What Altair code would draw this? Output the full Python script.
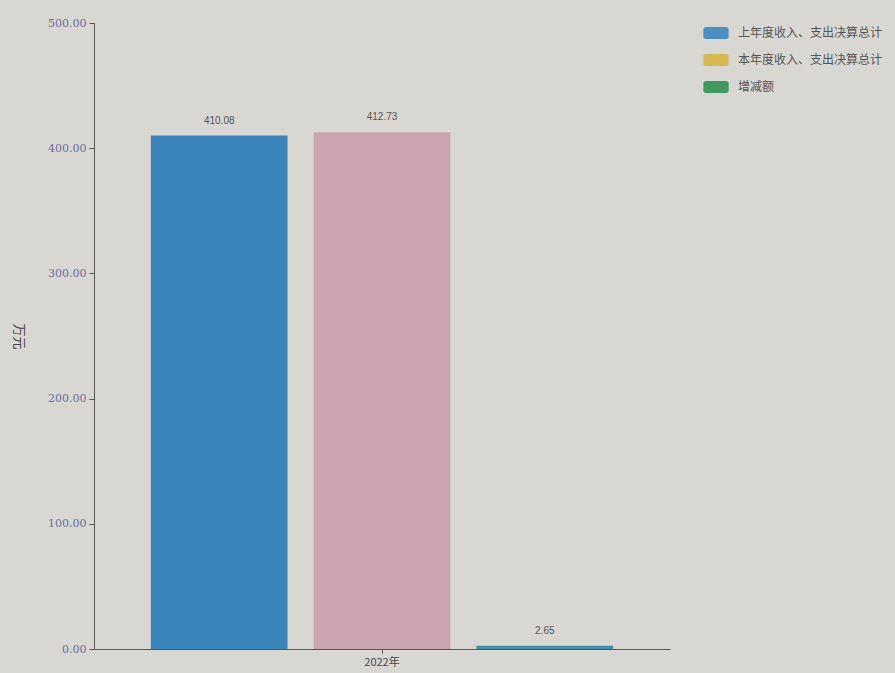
import altair as alt
import pandas as pd

# Series shown in the legend and their totals (万元)
series = ["上年度收入、支出决算总计", "本年度收入、支出决算总计", "增减额"]
values = [410.08, 412.73, 2.65]
year = "2022年"

legend_colors = ["#4a8fc4", "#d6b94f", "#3f9a60"]
bar_colors = ["#3a86bc", "#cba4b0", "#3d8db3"]

df = pd.DataFrame({
    "year": [year] * len(series),
    "series": series,
    "bar_series": series,
    "value": values,
    "label": [f"{v:.2f}" for v in values],
})

rounded_rect = (
    "M-0.78,-0.48 L0.78,-0.48 Q1,-0.48 1,-0.26 L1,0.26 Q1,0.48 0.78,0.48 "
    "L-0.78,0.48 Q-1,0.48 -1,0.26 L-1,-0.26 Q-1,-0.48 -0.78,-0.48 Z"
)

x_enc = alt.X(
    "year:N",
    title=None,
    scale=alt.Scale(paddingInner=0, paddingOuter=0.123),
    axis=alt.Axis(labelAngle=0, labelColor="#444", labelFontSize=11,
                  labelFont="Noto Sans CJK SC", domainColor="#555",
                  tickColor="#555", tickSize=4, labelPadding=3),
)
xoff = alt.XOffset("series:N", sort=series,
                   scale=alt.Scale(paddingInner=0.16, paddingOuter=0))
y_enc = alt.Y(
    "value:Q",
    title="万元",
    scale=alt.Scale(domain=[0, 500], nice=False),
    axis=alt.Axis(values=[0, 100, 200, 300, 400, 500], format=".2f",
                  grid=False, labelColor="#6a6d9c", labelFontSize=11,
                  labelFont="DejaVu Serif", domainColor="#555",
                  tickColor="#555", tickSize=5, labelPadding=3,
                  titleAngle=90, titleFont="Noto Sans CJK SC",
                  titleFontSize=13, titleFontWeight="normal",
                  titleColor="#444", titlePadding=36),
)

bars = alt.Chart(df).mark_bar().encode(
    x=x_enc,
    xOffset=xoff,
    y=y_enc,
    color=alt.Color("bar_series:N", sort=series,
                    scale=alt.Scale(domain=series, range=bar_colors),
                    legend=None),
)

labels = alt.Chart(df).mark_text(
    dy=-15, fontSize=10, color="#555", font="Liberation Sans"
).encode(
    x=alt.X("year:N"),
    xOffset=xoff,
    y="value:Q",
    text="label:N",
)

# invisible points that only carry the series legend
legend_layer = alt.Chart(df).mark_point(filled=True, size=0).encode(
    x=alt.X("year:N"),
    xOffset=xoff,
    y="value:Q",
    color=alt.Color(
        "series:N", sort=series,
        scale=alt.Scale(domain=series, range=legend_colors),
        legend=alt.Legend(
            title=None, orient="none", legendX=609, legendY=-3,
            symbolType=rounded_rect, symbolSize=640, symbolOpacity=1,
            symbolStrokeWidth=0, labelFont="Noto Sans CJK SC",
            labelFontSize=12, labelColor="#555", rowPadding=7,
            labelOffset=9, labelLimit=300,
        ),
    ),
)

chart = alt.layer(bars, labels, legend_layer).resolve_scale(
    color="independent"
).resolve_legend(color="independent").properties(
    width=576,
    height=626,
    background="#d8d7d2",
    padding={"left": 94, "top": 23, "right": 225, "bottom": 24},
    autosize=alt.AutoSizeParams(type="none"),
).configure_view(stroke=None)

chart.save("out.html", embed_options={"renderer": "svg", "actions": False})
